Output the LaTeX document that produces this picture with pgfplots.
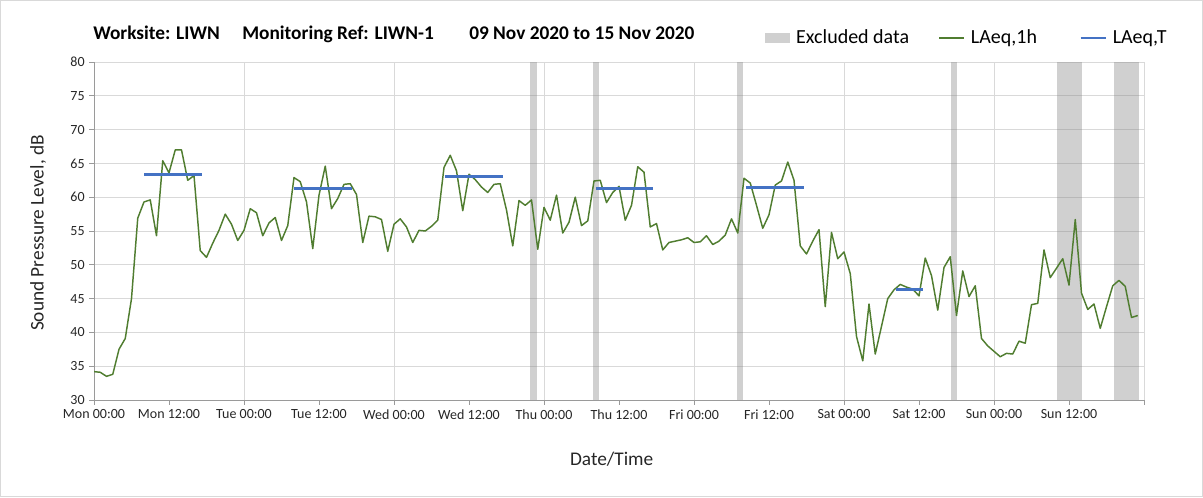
\documentclass[border=0pt]{standalone}
\usepackage{pgfplots}
\usepackage{pgfplotstable}
\pgfplotsset{compat=1.18}
\usepackage{fontspec}
\setmainfont{Carlito}
\definecolor{lgreen}{HTML}{507D30}
\definecolor{lblue}{HTML}{4472C4}
\definecolor{gridc}{HTML}{D9D9D9}
\definecolor{axc}{HTML}{9A9A9A}
\definecolor{framec}{HTML}{D9D9D9}
\pgfplotstableread{
h v
0 34.2
1 34.1
2 33.5
3 33.8
4 37.5
5 39.1
6 45.0
7 56.9
8 59.3
9 59.6
10 54.3
11 65.4
12 63.6
13 67.0
14 67.0
15 62.5
16 63.2
17 52.1
18 51.1
19 53.2
20 55.1
21 57.5
22 56.0
23 53.6
24 55.1
25 58.3
26 57.7
27 54.3
28 56.2
29 57.0
30 53.6
31 55.8
32 62.9
33 62.3
34 59.3
35 52.4
36 60.3
37 64.6
38 58.3
39 59.8
40 61.9
41 62.0
42 60.4
43 53.3
44 57.2
45 57.1
46 56.7
47 52.0
48 56.0
49 56.8
50 55.6
51 53.3
52 55.1
53 55.0
54 55.7
55 56.6
56 64.4
57 66.2
58 63.9
59 58.0
60 63.4
61 62.6
62 61.5
63 60.7
64 61.9
65 62.0
66 58.1
67 52.8
68 59.5
69 58.8
70 59.6
71 52.3
72 58.5
73 56.6
74 60.3
75 54.7
76 56.3
77 60.0
78 55.8
79 56.5
80 62.4
81 62.5
82 59.2
83 60.7
84 61.6
85 56.6
86 58.8
87 64.5
88 63.7
89 55.6
90 56.1
91 52.2
92 53.3
93 53.5
94 53.7
95 54.0
96 53.3
97 53.4
98 54.3
99 53.0
100 53.5
101 54.4
102 56.8
103 54.7
104 62.8
105 62.1
106 58.8
107 55.4
108 57.4
109 61.8
110 62.4
111 65.2
112 62.5
113 52.8
114 51.6
115 53.5
116 55.2
117 43.8
118 54.8
119 50.9
120 51.9
121 48.7
122 39.4
123 35.8
124 44.2
125 36.8
126 40.9
127 45.0
128 46.3
129 47.1
130 46.7
131 46.4
132 45.4
133 51.0
134 48.4
135 43.3
136 49.6
137 51.2
138 42.5
139 49.1
140 45.3
141 46.9
142 39.1
143 38.0
144 37.2
145 36.4
146 36.9
147 36.8
148 38.7
149 38.4
150 44.1
151 44.3
152 52.2
153 48.1
154 49.5
155 50.9
156 47.0
157 56.7
158 45.8
159 43.4
160 44.2
161 40.6
162 43.8
163 46.9
164 47.7
165 46.8
166 42.2
167 42.5
}\laeqone
\begin{document}
\begin{tikzpicture}[x=0.75pt,y=0.75pt]
\draw[framec, line width=0.75pt] (0.5,0.5) rectangle (1202.5,496.5);
\node[anchor=base west, inner sep=0, font=\bfseries\fontsize{14.5}{16}\selectfont] at (93,457) {Worksite: LIWN};
\node[anchor=base west, inner sep=0, font=\bfseries\fontsize{14.5}{16}\selectfont] at (242,457) {Monitoring Ref: LIWN-1};
\node[anchor=base west, inner sep=0, font=\bfseries\fontsize{14.5}{16}\selectfont] at (469,457) {09 Nov 2020 to 15 Nov 2020};
\begin{axis}[
  at={(70.5pt,72.75pt)}, anchor=south west,
  scale only axis, width=787.5pt, height=253.5pt,
  xmin=0, xmax=168, ymin=30, ymax=80,
  ytick={30,35,...,80},
  xtick={0,12,...,168},
  xticklabels={Mon 00:00,Mon 12:00,Tue 00:00,Tue 12:00,Wed 00:00,Wed 12:00,Thu 00:00,Thu 12:00,Fri 00:00,Fri 12:00,Sat 00:00,Sat 12:00,Sun 00:00,Sun 12:00,{}},
  extra x ticks={24,48,...,168}, extra x tick labels={},
  extra x tick style={grid=major, major tick length=0pt},
  ymajorgrids,
  grid style={gridc, line width=0.75pt},
  axis x line*=bottom, axis y line*=left,
  axis line style={axc, line width=0.75pt, -},
  tick style={axc, line width=0.75pt},
  major tick length=3.5pt,
  tick align=outside,
  /pgf/number format/assume math mode=true,
  tick label style={font=\fontsize{10.5}{12}\selectfont, text=black!85},
  xlabel={Date/Time}, ylabel={Sound Pressure Level, dB},
  label style={font=\fontsize{14.5}{16}\selectfont, text=black!85},
  xlabel style={at={(axis description cs:0.493,-0.175)}, anchor=center},
  ylabel style={at={(axis description cs:-0.0533,0.494)}, anchor=center, rotate=0},
  legend style={at={(axis description cs:0.639,1.071)}, anchor=west, draw=none, fill=none,
    legend columns=3, font=\fontsize{15}{17}\selectfont, inner sep=0pt,
    nodes={inner sep=0pt},
    /tikz/every odd column/.append style={column sep=4.5pt},
    /tikz/every even column/.append style={column sep=0pt}},
  legend cell align=left,
]
\addplot[draw=none, fill=black!50, fill opacity=0.37,
  legend image code/.code={\fill[black!50, fill opacity=0.37] (0pt,-3.75pt) rectangle (18.75pt,3.75pt);}]
  coordinates {(69.8,30) (69.8,80) (70.8,80) (70.8,30)} -- cycle;
\addlegendentry{\makebox[107pt][l]{Excluded data}}
\addplot[draw=none, fill=black!50, fill opacity=0.37, forget plot]
  coordinates {(79.8,30) (79.8,80) (80.8,80) (80.8,30)} -- cycle;
\addplot[draw=none, fill=black!50, fill opacity=0.37, forget plot]
  coordinates {(102.9,30) (102.9,80) (103.9,80) (103.9,30)} -- cycle;
\addplot[draw=none, fill=black!50, fill opacity=0.37, forget plot]
  coordinates {(137.1,30) (137.1,80) (138.1,80) (138.1,30)} -- cycle;
\addplot[draw=none, fill=black!50, fill opacity=0.37, forget plot]
  coordinates {(154.1,30) (154.1,80) (158.1,80) (158.1,30)} -- cycle;
\addplot[draw=none, fill=black!50, fill opacity=0.37, forget plot]
  coordinates {(163.2,30) (163.2,80) (167.2,80) (167.2,30)} -- cycle;
\addplot[lgreen, line width=1.1pt, line join=round, no marks,
  legend image code/.code={\draw[lgreen, line width=0.8pt] (0pt,0pt) -- (18.75pt,0pt);}]
  table[x=h, y=v] {\laeqone};
\addlegendentry{\makebox[81.5pt][l]{LAeq,1h}}
\addplot[lblue, line width=2.2pt, no marks, unbounded coords=jump,
  legend image code/.code={\draw[lblue, line width=1.6pt] (0pt,0pt) -- (18.75pt,0pt);}]
  coordinates {(8,63.4) (17.3,63.4) (17.3,nan) (32,61.3) (41.3,61.3) (41.3,nan)
               (56.1,63.0) (65.5,63.0) (65.5,nan) (80.3,61.3) (89.5,61.3) (89.5,nan)
               (104.3,61.4) (113.6,61.4) (113.6,nan) (128.3,46.4) (132.7,46.4)};
\addlegendentry{LAeq,T}
\end{axis}
\end{tikzpicture}
\end{document}
